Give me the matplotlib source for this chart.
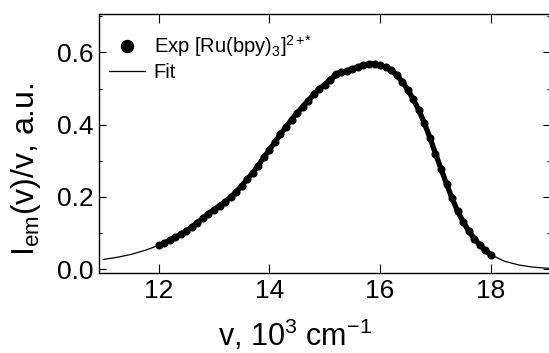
import numpy as np
import matplotlib
matplotlib.use("Agg")
import matplotlib.pyplot as plt
from matplotlib.ticker import MultipleLocator, FormatStrFormatter

plt.rcParams['font.family'] = ['Liberation Sans', 'DejaVu Sans']
plt.rcParams['mathtext.fontset'] = 'custom'
plt.rcParams['mathtext.rm'] = 'Liberation Sans'
plt.rcParams['mathtext.it'] = 'Liberation Sans:italic'

# experimental points, 10^3 cm^-1
nu_exp = np.array([12.0, 12.1, 12.2, 12.3, 12.4, 12.5, 12.6, 12.7, 12.8, 12.9,
                   13.0, 13.1, 13.2, 13.3, 13.4, 13.5, 13.6, 13.7, 13.8, 13.9,
                   14.0, 14.1, 14.2, 14.3, 14.4, 14.5, 14.6, 14.7, 14.8, 14.9,
                   15.0, 15.1, 15.2, 15.3, 15.4, 15.5, 15.6, 15.7, 15.8, 15.9,
                   16.0, 16.1, 16.2, 16.3, 16.4, 16.5, 16.6, 16.7, 16.8, 16.9,
                   17.0, 17.1, 17.2, 17.3, 17.4, 17.5, 17.6, 17.7, 17.8, 17.9,
                   18.0])
I_exp = np.array([0.066, 0.072, 0.080, 0.088, 0.097, 0.106, 0.117, 0.129, 0.141, 0.154,
                  0.165, 0.176, 0.187, 0.199, 0.214, 0.231, 0.249, 0.267, 0.287, 0.310,
                  0.330, 0.352, 0.374, 0.394, 0.414, 0.432, 0.450, 0.466, 0.484, 0.499,
                  0.511, 0.525, 0.540, 0.545, 0.549, 0.555, 0.560, 0.565, 0.569, 0.568,
                  0.565, 0.559, 0.552, 0.538, 0.519, 0.497, 0.470, 0.440, 0.404, 0.364,
                  0.320, 0.278, 0.236, 0.196, 0.161, 0.131, 0.106, 0.085, 0.067, 0.052,
                  0.040])

# fit curve
nu_fit = np.array([11.0, 11.25, 11.5, 11.75, 12.0, 12.25, 12.5, 12.75, 13.0, 13.25,
                   13.5, 13.75, 14.0, 14.25, 14.5, 14.75, 15.0, 15.25, 15.5, 15.75,
                   16.0, 16.25, 16.5, 16.75, 17.0, 17.25, 17.5, 17.75, 18.0, 18.25,
                   18.5, 18.75, 19.0, 19.25])
I_fit = np.array([0.027, 0.033, 0.041, 0.052, 0.066, 0.084, 0.108, 0.136, 0.166, 0.197,
                  0.233, 0.275, 0.326, 0.380, 0.430, 0.472, 0.508, 0.535, 0.552, 0.562,
                  0.562, 0.545, 0.500, 0.420, 0.318, 0.215, 0.133, 0.075, 0.040, 0.022,
                  0.012, 0.006, 0.003, 0.001])

fig = plt.figure(figsize=(5.49, 3.53), dpi=100)
ax = fig.add_axes([0.181, 0.226, 0.820, 0.735])

ax.plot(nu_exp, I_exp, '-', color='black', lw=3.8, solid_capstyle='round')
ax.plot(nu_exp, I_exp, 'o', color='black', ms=4.8, label=r'Exp [Ru(bpy)$_3$]$^{2+\!\!*}$')
ax.plot(nu_fit, I_fit, '-', color='black', lw=0.9, label='Fit')

ax.set_xlim(10.93, 19.06)
ax.set_ylim(-0.011, 0.707)
ax.set_xticks([12, 14, 16, 18])
ax.yaxis.set_major_locator(MultipleLocator(0.2))
ax.yaxis.set_minor_locator(MultipleLocator(0.1))
ax.yaxis.set_major_formatter(FormatStrFormatter('%.1f'))
ax.tick_params(axis='both', which='both', direction='in', top=True, right=True,
               labelsize=19, width=0.8, pad=4)
ax.tick_params(axis='x', which='major', length=6.5)
ax.tick_params(axis='y', which='major', length=5.2)
ax.tick_params(axis='y', which='minor', length=2.4)
for s in ax.spines.values():
    s.set_linewidth(1.0)

ax.set_xlabel(r'v, 10$^3$ cm$^{-1}$', fontsize=22)
ax.xaxis.set_label_coords(0.435, -0.17)
ax.set_ylabel(r'I$_{\mathrm{em}}$(v)/v, a.u.', fontsize=23)
ax.yaxis.set_label_coords(-0.125, 0.40)

ax.legend(loc='upper left', bbox_to_anchor=(0.0, 0.965), frameon=False, fontsize=14.5,
          markerscale=1.8, handlelength=1.75, handletextpad=0.45, labelspacing=0.2,
          borderpad=0.3, borderaxespad=0.2)

fig.savefig('out.png', dpi=100)
